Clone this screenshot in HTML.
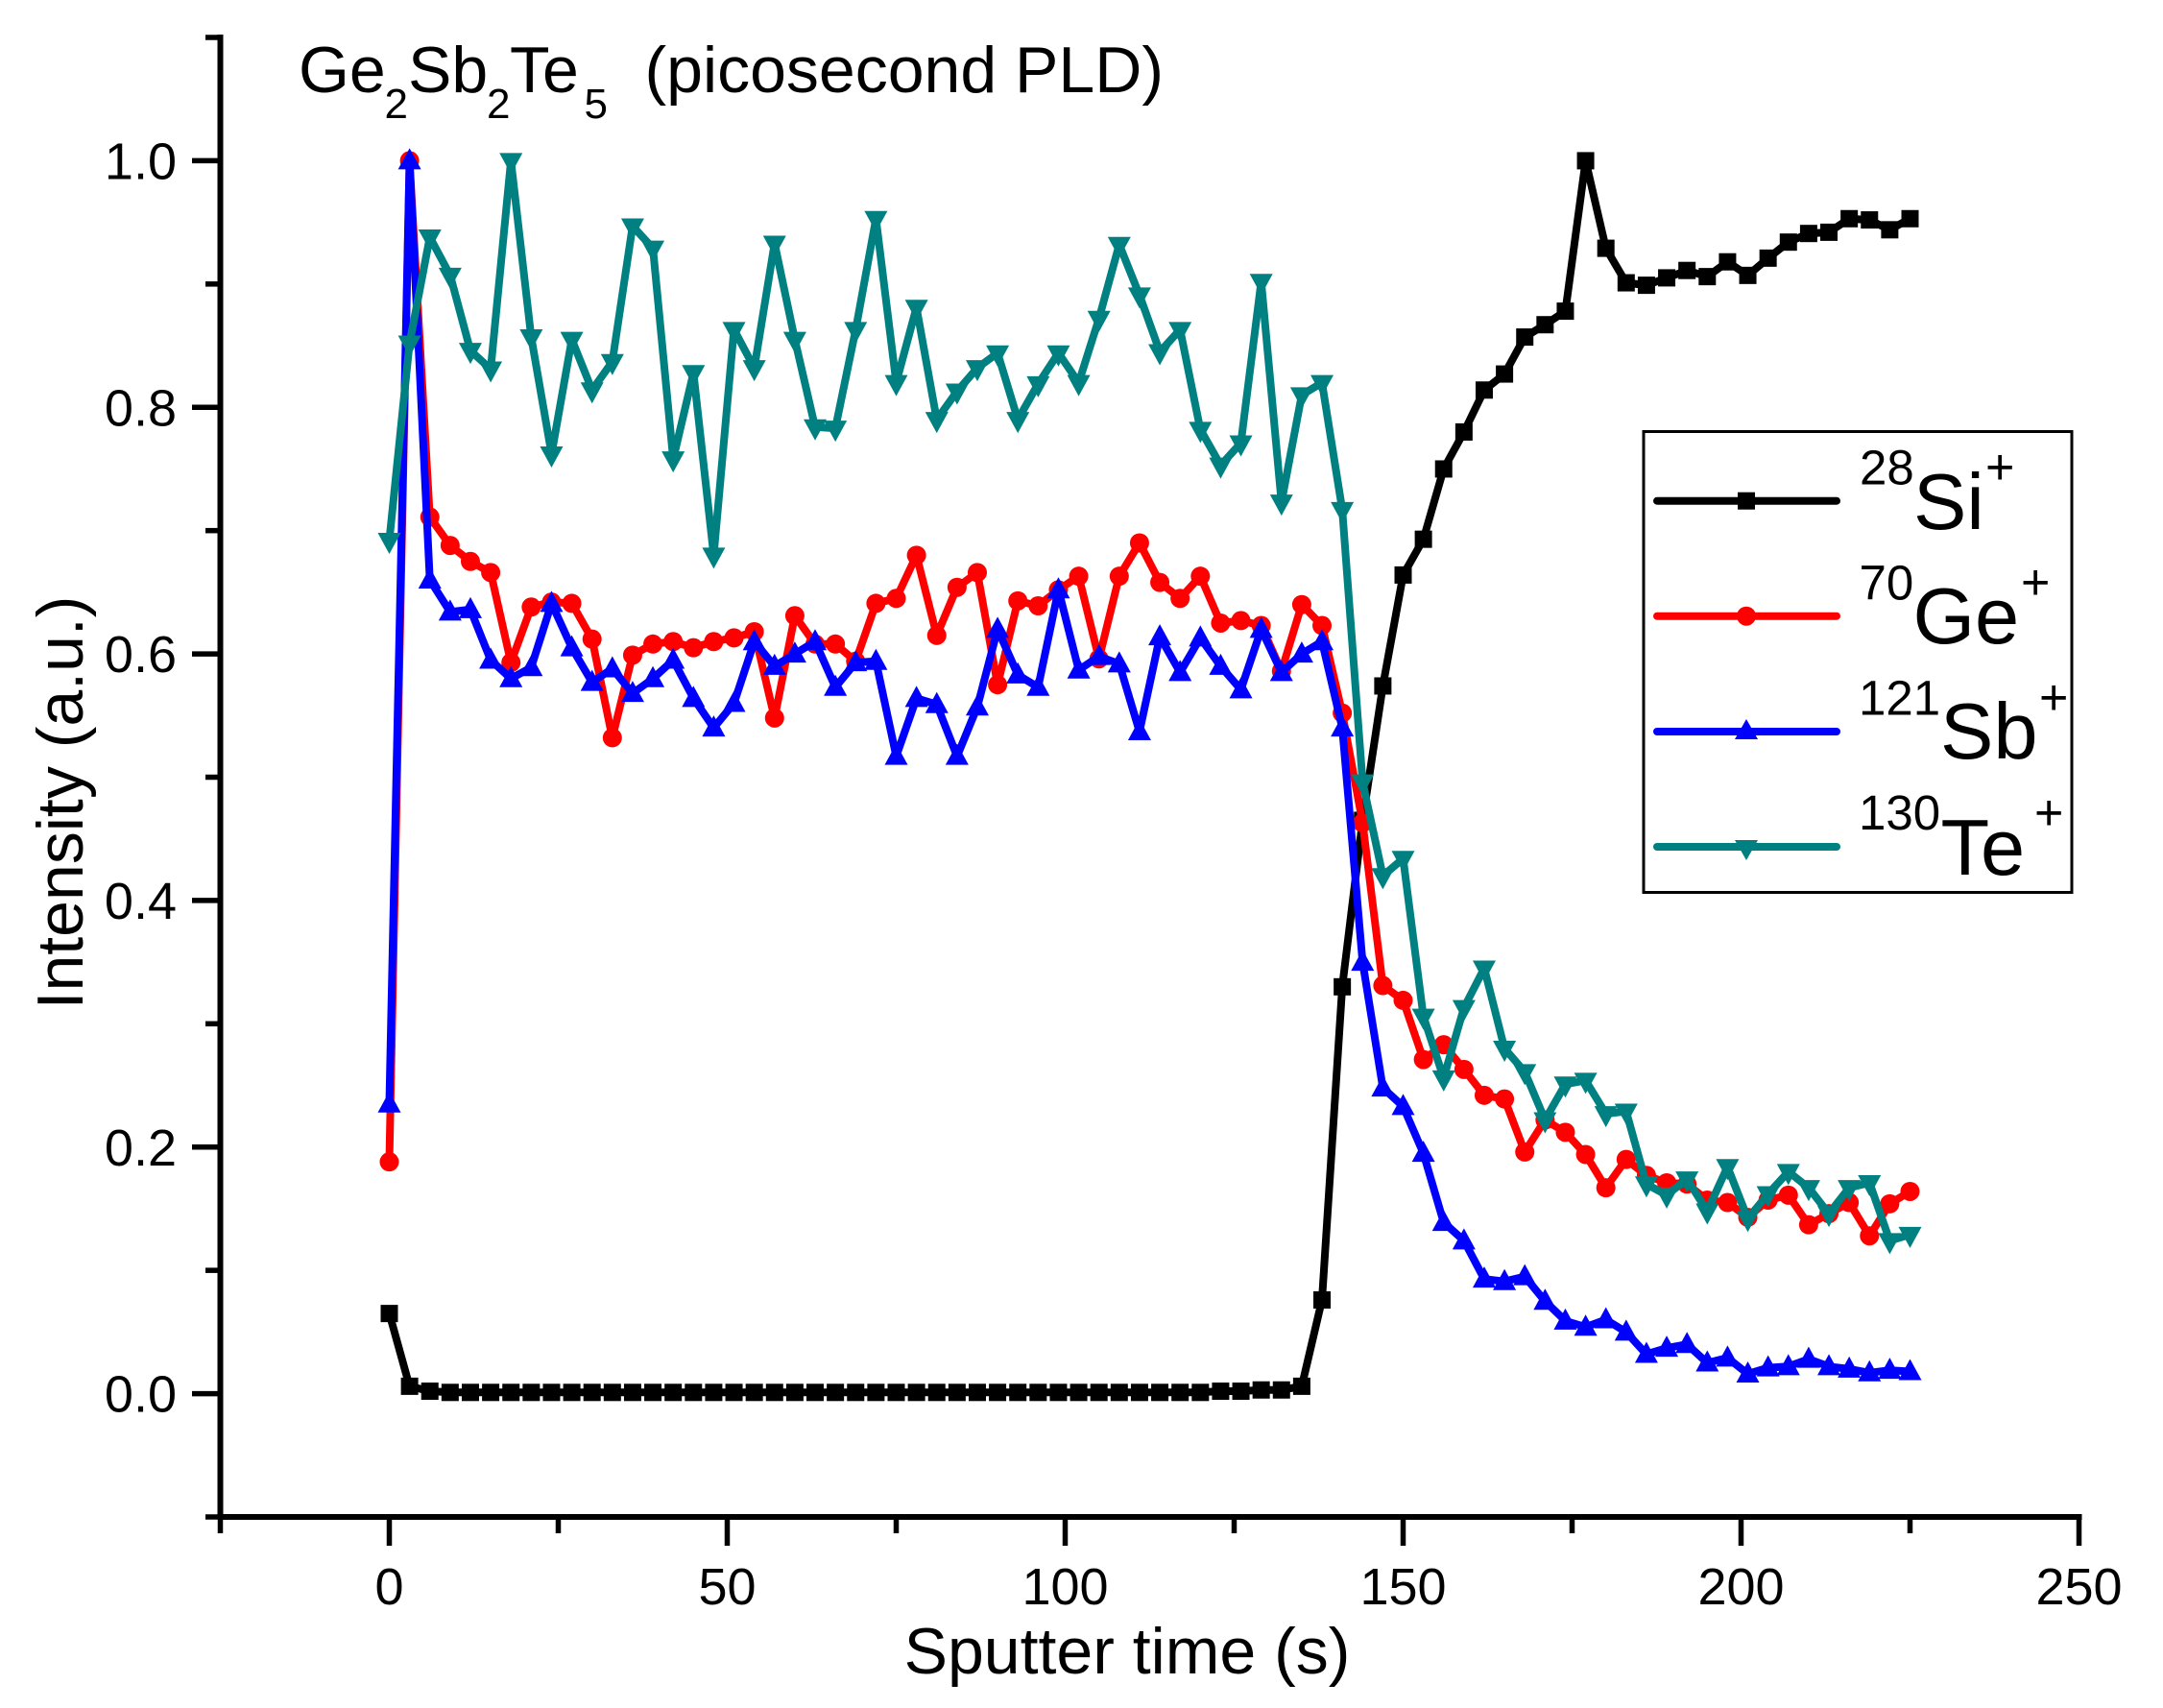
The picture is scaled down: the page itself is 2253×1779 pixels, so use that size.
<!DOCTYPE html>
<html lang="en">
<head>
<meta charset="utf-8">
<title>Ge2Sb2Te5 depth profile</title>
<style>
html,body{margin:0;padding:0;background:#fff;width:2253px;height:1779px;overflow:hidden}
svg{display:block}
text{font-family:"Liberation Sans",Arial,sans-serif;fill:#000}
</style>
</head>
<body>
<svg id="chart" xmlns="http://www.w3.org/2000/svg" width="2253" height="1779" viewBox="0 0 2253 1779">
  <rect x="0" y="0" width="2253" height="1779" fill="#fff"/>
  <g id="axes"></g>
  <g id="series"></g>

  <text font-size="68"><tspan x="311" y="96">Ge</tspan><tspan x="400.5" y="123" font-size="44">2</tspan><tspan x="425" y="96">Sb</tspan><tspan x="507" y="123" font-size="44">2</tspan><tspan x="531" y="96">Te</tspan><tspan x="608.5" y="123" font-size="44">5</tspan><tspan x="671.5" y="96">(picosecond PLD)</tspan></text>
  <text x="1174" y="1743" font-size="68" text-anchor="middle">Sputter time (s)</text>
  <text transform="translate(86,836) rotate(-90)" font-size="68" text-anchor="middle">Intensity (a.u.)</text>

  <g>
    <rect x="1712" y="449.5" width="446" height="480" fill="#fff" stroke="#000" stroke-width="3"/>
    <g>
      <line x1="1726" y1="521.7" x2="1913" y2="521.7" stroke="#000" stroke-width="8" stroke-linecap="round"/>
      <rect x="1810" y="512.7" width="18" height="18" fill="#000"/>
      <text font-size="51" x="1937" y="504.5">28</text>
      <text font-size="83" x="1993" y="551">Si</text>
      <text font-size="52" x="2068" y="504">+</text>
    </g>
    <g>
      <line x1="1726" y1="641.7" x2="1913" y2="641.7" stroke="#f00" stroke-width="8" stroke-linecap="round"/>
      <circle cx="1819" cy="641.7" r="10" fill="#f00"/>
      <text font-size="51" x="1936.5" y="624.5">70</text>
      <text font-size="83" x="1992.5" y="670">Ge</text>
      <text font-size="52" x="2105" y="624">+</text>
    </g>
    <g>
      <line x1="1726" y1="762" x2="1913" y2="762" stroke="#00f" stroke-width="8" stroke-linecap="round"/>
      <polygon points="1819,749 1807,770 1831,770" fill="#00f"/>
      <text font-size="51" x="1936" y="744.5">121</text>
      <text font-size="83" x="2021" y="790">Sb</text>
      <text font-size="52" x="2124" y="744">+</text>
    </g>
    <g>
      <line x1="1726" y1="882" x2="1913" y2="882" stroke="#008080" stroke-width="8" stroke-linecap="round"/>
      <polygon points="1819,896 1807,875 1831,875" fill="#008080"/>
      <text font-size="51" x="1936" y="864">130</text>
      <text font-size="83" x="2021.5" y="911">Te</text>
      <text font-size="52" x="2119" y="864">+</text>
    </g>
  </g>
</svg>
<script>
var times = [0,3,6,9,12,15,18,21,24,27,30,33,36,39,42,45,48,51,54,57,60,63,66,69,72,75,78,81,84,87,90,93,96,99,102,105,108,111,114,117,120,123,126,129,132,135,138,141,144,147,150,153,156,159,162,165,168,171,174,177,180,183,186,189,192,195,198,201,204,207,210,213,216,219,222,225];
var siValues = [0.065,0.006,0.002,0.001,0.001,0.001,0.001,0.001,0.001,0.001,0.001,0.001,0.001,0.001,0.001,0.001,0.001,0.001,0.001,0.001,0.001,0.001,0.001,0.001,0.001,0.001,0.001,0.001,0.001,0.001,0.001,0.001,0.001,0.001,0.001,0.001,0.001,0.001,0.001,0.001,0.001,0.002,0.002,0.003,0.003,0.006,0.076,0.33,0.465,0.574,0.664,0.693,0.75,0.78,0.814,0.827,0.857,0.867,0.878,1.0,0.929,0.901,0.899,0.905,0.911,0.906,0.918,0.907,0.921,0.934,0.941,0.942,0.953,0.952,0.944,0.953];
var geValues = [0.188,1.0,0.711,0.688,0.675,0.666,0.593,0.638,0.642,0.641,0.612,0.532,0.599,0.608,0.61,0.605,0.61,0.613,0.618,0.548,0.631,0.608,0.608,0.594,0.641,0.645,0.68,0.615,0.654,0.666,0.575,0.643,0.639,0.652,0.663,0.596,0.663,0.69,0.658,0.645,0.663,0.625,0.627,0.623,0.586,0.64,0.623,0.552,0.463,0.331,0.319,0.271,0.283,0.263,0.242,0.239,0.196,0.222,0.212,0.194,0.167,0.19,0.177,0.171,0.17,0.157,0.155,0.143,0.157,0.161,0.137,0.146,0.155,0.128,0.154,0.164];
var sbValues = [0.235,1.0,0.66,0.634,0.636,0.595,0.58,0.589,0.641,0.605,0.577,0.588,0.568,0.58,0.595,0.564,0.54,0.56,0.61,0.59,0.6,0.61,0.573,0.593,0.594,0.517,0.564,0.559,0.517,0.557,0.62,0.583,0.573,0.652,0.587,0.598,0.592,0.537,0.614,0.585,0.613,0.59,0.571,0.62,0.585,0.6,0.61,0.54,0.35,0.248,0.233,0.195,0.139,0.124,0.093,0.091,0.095,0.075,0.059,0.054,0.06,0.05,0.032,0.037,0.04,0.025,0.029,0.016,0.021,0.022,0.028,0.022,0.02,0.017,0.019,0.018];
var teValues = [0.692,0.852,0.938,0.907,0.846,0.831,1.0,0.857,0.762,0.855,0.814,0.837,0.947,0.929,0.758,0.828,0.68,0.863,0.832,0.933,0.855,0.784,0.783,0.863,0.953,0.82,0.881,0.79,0.813,0.832,0.844,0.79,0.819,0.844,0.82,0.872,0.932,0.891,0.845,0.863,0.782,0.753,0.771,0.902,0.723,0.81,0.82,0.717,0.496,0.42,0.434,0.306,0.256,0.313,0.345,0.28,0.261,0.222,0.251,0.254,0.227,0.229,0.17,0.161,0.174,0.148,0.184,0.142,0.162,0.18,0.167,0.146,0.167,0.171,0.124,0.129];
var xMajorTicks = [0,50,100,150,200,250];
var xMinorTicks = [-25,25,75,125,175,225];
var yMajorTicks = [0,0.2,0.4,0.6,0.8,1.0];
var yMinorTicks = [-0.1,0.1,0.3,0.5,0.7,0.9,1.1];
var xDomain = [-25,250];
var yDomain = [-0.1,1.1];

var NS = 'http://www.w3.org/2000/svg';
function xScale(v){ return 229.5 + (v - xDomain[0]) * (1936 / (xDomain[1] - xDomain[0])); }
function yScale(v){ return 1580 - (v - yDomain[0]) * (1541 / (yDomain[1] - yDomain[0])); }
function make(tag, attrs){
  var el = document.createElementNS(NS, tag);
  for (var k in attrs) el.setAttribute(k, attrs[k]);
  return el;
}

var axes = document.getElementById('axes');
var yAxisLine = make('line', {x1: xScale(xDomain[0]), x2: xScale(xDomain[0]), y1: yScale(yDomain[0]) + 3, y2: yScale(yDomain[1]) - 3, stroke: '#000', 'stroke-width': 6});


axes.appendChild(yAxisLine);
var xAxisLine = make('line', {x1: xScale(xDomain[0]) - 3, x2: xScale(xDomain[1]) + 3, y1: yScale(yDomain[0]), y2: yScale(yDomain[0]), stroke: '#000', 'stroke-width': 6});


axes.appendChild(xAxisLine);

xMinorTicks.forEach(function(t){
  var tick = make('line', {x1: xScale(t), x2: xScale(t), y1: 1580, y2: 1597, stroke: '#000', 'stroke-width': 5.5});
  
  
  axes.appendChild(tick);
});
xMajorTicks.forEach(function(t){
  var tick = make('line', {x1: xScale(t), x2: xScale(t), y1: 1580, y2: 1610, stroke: '#000', 'stroke-width': 5.5});
  
  
  axes.appendChild(tick);
  var label = make('text', {x: xScale(t), y: 1671, 'font-size': 54, 'text-anchor': 'middle'});
  
  
  label.textContent = String(t);
  axes.appendChild(label);
});
yMinorTicks.forEach(function(t){
  var tick = make('line', {x1: 214, x2: 230, y1: yScale(t), y2: yScale(t), stroke: '#000', 'stroke-width': 5.5});
  
  
  axes.appendChild(tick);
});
yMajorTicks.forEach(function(t){
  var tick = make('line', {x1: 200, x2: 230, y1: yScale(t), y2: yScale(t), stroke: '#000', 'stroke-width': 5.5});
  
  
  axes.appendChild(tick);
  var label = make('text', {x: 184, y: yScale(t) + 19, 'font-size': 54, 'text-anchor': 'end'});
  
  
  label.textContent = t.toFixed(1);
  axes.appendChild(label);
});

function drawMarker(kind, cx, cy, color){
  if (kind === 'square') return make('rect', {x: cx - 9, y: cy - 9, width: 18, height: 18, fill: color});
  if (kind === 'circle') return make('circle', {cx: cx, cy: cy, r: 10, fill: color});
  if (kind === 'up') return make('polygon', {points: cx + ',' + (cy - 13) + ' ' + (cx - 12) + ',' + (cy + 9) + ' ' + (cx + 12) + ',' + (cy + 9), fill: color});
  return make('polygon', {points: cx + ',' + (cy + 14) + ' ' + (cx - 12) + ',' + (cy - 8) + ' ' + (cx + 12) + ',' + (cy - 8), fill: color});
}
function drawSeries(name, values, color, kind){
  var g = make('g', {});
  
  
  var pts = values.map(function(v, i){ return xScale(times[i]).toFixed(1) + ',' + yScale(v).toFixed(1); }).join(' ');
  var line = make('polyline', {points: pts, fill: 'none', stroke: color, 'stroke-width': 8, 'stroke-linejoin': 'round'});
  
  
  g.appendChild(line);
  values.forEach(function(v, i){
    var m = drawMarker(kind, xScale(times[i]), yScale(v), color);
    
    
    g.appendChild(m);
  });
  document.getElementById('series').appendChild(g);
}
drawSeries('series-si', siValues, '#000000', 'square');
drawSeries('series-ge', geValues, '#ff0000', 'circle');
drawSeries('series-sb', sbValues, '#0000ff', 'up');
drawSeries('series-te', teValues, '#008080', 'down');
</script>
</body>
</html>
